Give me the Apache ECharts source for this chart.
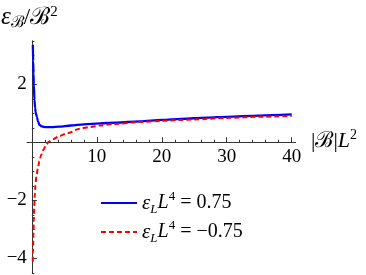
<!DOCTYPE html>
<html><head><meta charset="utf-8">
<script src="https://cdn.jsdelivr.net/npm/echarts@6/dist/echarts.min.js"></script>
<style>html,body{margin:0;padding:0;background:#fff}#c{width:366px;height:275px}</style>
</head><body><div id="c"></div>
<script>
// ---- data ----
const blueX = [0.15, 0.2, 0.25, 0.3, 0.4, 0.5, 0.6, 0.77, 0.95, 1.17, 1.5, 2.2, 3, 4.2, 6, 8, 10.5, 13, 16.6, 20, 23, 27, 30, 35, 40];
const blueY = [3.36, 2.8, 2.37, 2.0, 1.46, 1.18, 1.02, 0.88, 0.72, 0.6, 0.55, 0.52, 0.52, 0.54, 0.58, 0.62, 0.65, 0.68, 0.72, 0.77, 0.81, 0.85, 0.88, 0.92, 0.96];
const redX = [0.14, 0.17, 0.2, 0.25, 0.3, 0.35, 0.45, 0.55, 0.7, 0.92, 1.15, 1.43, 1.8, 2.2, 2.6, 3.2, 4.3, 5.5, 7.4, 9, 10.5, 12.5, 16.6, 20, 22.8, 25, 30, 35, 40];
const redY = [-4.12, -3.8, -3.55, -3.2, -2.7, -2.28, -1.8, -1.47, -1.15, -0.9, -0.65, -0.44, -0.25, -0.09, 0.02, 0.1, 0.22, 0.32, 0.47, 0.53, 0.58, 0.63, 0.7, 0.74, 0.77, 0.79, 0.84, 0.88, 0.91];
const seriesNames = ['eps075', 'epsm075'];
const legendValues = ['0.75', '\u22120.75'];
const xMajorTicks = [10, 20, 30, 40];
const xMinorTicks = [2, 4, 6, 8, 12, 14, 16, 18, 22, 24, 26, 28, 32, 34, 36, 38];
const yMajorTicks = [-4, -2, 2];
const yMinorTicks = [-4.5, -3.5, -3, -2.5, -1.5, -1, -0.5, 0.5, 1, 1.5, 2.5, 3, 3.5];
const yLabels = [-4, -2, 2];
const xLabels = [10, 20, 30, 40];

const serif = 'Liberation Serif';
const axisColor = '#333';
const W = 366, H = 275;
const gridBox = {left: 27, right: 70.4, top: 40.8, bottom: 2.2, outerBoundsMode: 'none'};
const xRange = {min: -0.75, max: 40.6};
const yRange = {min: -4.5, max: 3.5};
// axes cross at the data origin: shift them from the grid edges to zero
const gw = W - gridBox.left - gridBox.right, gh = H - gridBox.top - gridBox.bottom;
const xAxisOffset = -gh * (0 - yRange.min) / (yRange.max - yRange.min);
const yAxisOffset = -gw * (0 - xRange.min) / (xRange.max - xRange.min);

const chart = echarts.init(document.getElementById('c'), null, {renderer: 'canvas'});

const legendRich = {
  e: {fontFamily: serif, fontStyle: 'italic', fontSize: 21, lineHeight: 26, color: '#000'},
  s: {fontFamily: serif, fontStyle: 'italic', fontSize: 13, lineHeight: 17, verticalAlign: 'bottom', color: '#000'},
  b: {fontFamily: serif, fontStyle: 'italic', fontSize: 20, lineHeight: 26, color: '#000'},
  p: {fontFamily: serif, fontSize: 13, lineHeight: 16, verticalAlign: 'top', color: '#000'},
  n: {fontFamily: serif, fontSize: 20, lineHeight: 26, color: '#000'}
};

const option = {
  animation: false,
  backgroundColor: '#fff',
  grid: [Object.assign({}, gridBox), Object.assign({}, gridBox)],
  xAxis: [
    Object.assign({type: 'value', gridIndex: 0, position: 'bottom', offset: xAxisOffset,
      axisLine: {onZero: false, lineStyle: {color: axisColor, width: 1}},
      axisTick: {inside: true, length: 5, customValues: xMajorTicks, lineStyle: {color: axisColor}},
      axisLabel: {customValues: xLabels, margin: 5, hideOverlap: false, fontFamily: serif, fontSize: 19, color: '#000'},
      splitLine: {show: false}}, xRange),
    Object.assign({type: 'value', gridIndex: 1, position: 'bottom', offset: xAxisOffset,
      axisLine: {onZero: false, show: false},
      axisTick: {show: true, inside: true, length: 2.5, customValues: xMinorTicks, lineStyle: {color: axisColor}},
      axisLabel: {show: false}, splitLine: {show: false}}, xRange)
  ],
  yAxis: [
    Object.assign({type: 'value', gridIndex: 0, position: 'left', offset: yAxisOffset,
      axisLine: {onZero: false, lineStyle: {color: axisColor, width: 1}},
      axisTick: {inside: true, length: 5, customValues: yMajorTicks, lineStyle: {color: axisColor}},
      axisLabel: {customValues: yLabels, margin: 5, hideOverlap: false, fontFamily: serif, fontSize: 19, color: '#000',
        formatter: v => String(v).replace('-', '\u2212')},
      splitLine: {show: false}}, yRange),
    Object.assign({type: 'value', gridIndex: 1, position: 'left', offset: yAxisOffset,
      axisLine: {onZero: false, show: false},
      axisTick: {show: true, inside: true, length: 2.5, customValues: yMinorTicks, lineStyle: {color: axisColor}},
      axisLabel: {show: false}, splitLine: {show: false}}, yRange)
  ],
  legend: {
    orient: 'vertical', left: 100, top: 190, padding: 0, itemWidth: 36, itemHeight: 14, itemGap: 3,
    data: seriesNames,
    itemStyle: {opacity: 0},
    formatter: name => '{e|ε}{s|L}{b|L}{p|4}{n| = ' + legendValues[seriesNames.indexOf(name)] + '}',
    textStyle: {rich: legendRich}
  },
  series: [
    {name: seriesNames[0], type: 'line', xAxisIndex: 0, yAxisIndex: 0,
      data: blueX.map((x, i) => [x, blueY[i]]), symbol: 'none', showSymbol: false,
      smooth: 0.3, smoothMonotone: 'x',
      lineStyle: {color: '#0000ff', width: 2.3}, itemStyle: {color: '#0000ff'}},
    {name: seriesNames[1], type: 'line', xAxisIndex: 0, yAxisIndex: 0,
      data: redX.map((x, i) => [x, redY[i]]), symbol: 'none', showSymbol: false,
      smooth: 0.3, smoothMonotone: 'x',
      lineStyle: {color: '#ff0000', width: 2, type: [5, 3]}, itemStyle: {color: '#ff0000'}}
  ],
  graphic: [
    {type: 'text', left: 1, top: 4.5, style: {
      text: '{e|ε}{s|ℬ}{n|/}{c|ℬ}{p|2}', fill: '#000',
      rich: {
        e: {fontFamily: serif, fontStyle: 'italic', fontSize: 25, lineHeight: 26, fill: '#000'},
        s: {fontFamily: serif, fontSize: 16, lineHeight: 11, verticalAlign: 'bottom', fill: '#000'},
        n: {fontFamily: serif, fontSize: 23, lineHeight: 26, fill: '#000'},
        c: {fontFamily: serif, fontSize: 24, lineHeight: 26, fill: '#000'},
        p: {fontFamily: serif, fontSize: 15, lineHeight: 10, verticalAlign: 'top', fill: '#000'}
      }}},
    {type: 'text', left: 311, top: 128.7, style: {
      text: '{n||}{c|ℬ}{n||}{i|L}{p|2}', fill: '#000',
      rich: {
        n: {fontFamily: serif, fontSize: 22, lineHeight: 26, fill: '#000'},
        c: {fontFamily: serif, fontSize: 22, lineHeight: 26, fill: '#000'},
        i: {fontFamily: serif, fontStyle: 'italic', fontSize: 22, lineHeight: 26, fill: '#000'},
        p: {fontFamily: serif, fontSize: 14, lineHeight: 7, verticalAlign: 'top', fill: '#000'}
      }}}
  ]
};
chart.setOption(option);
</script></body></html>
